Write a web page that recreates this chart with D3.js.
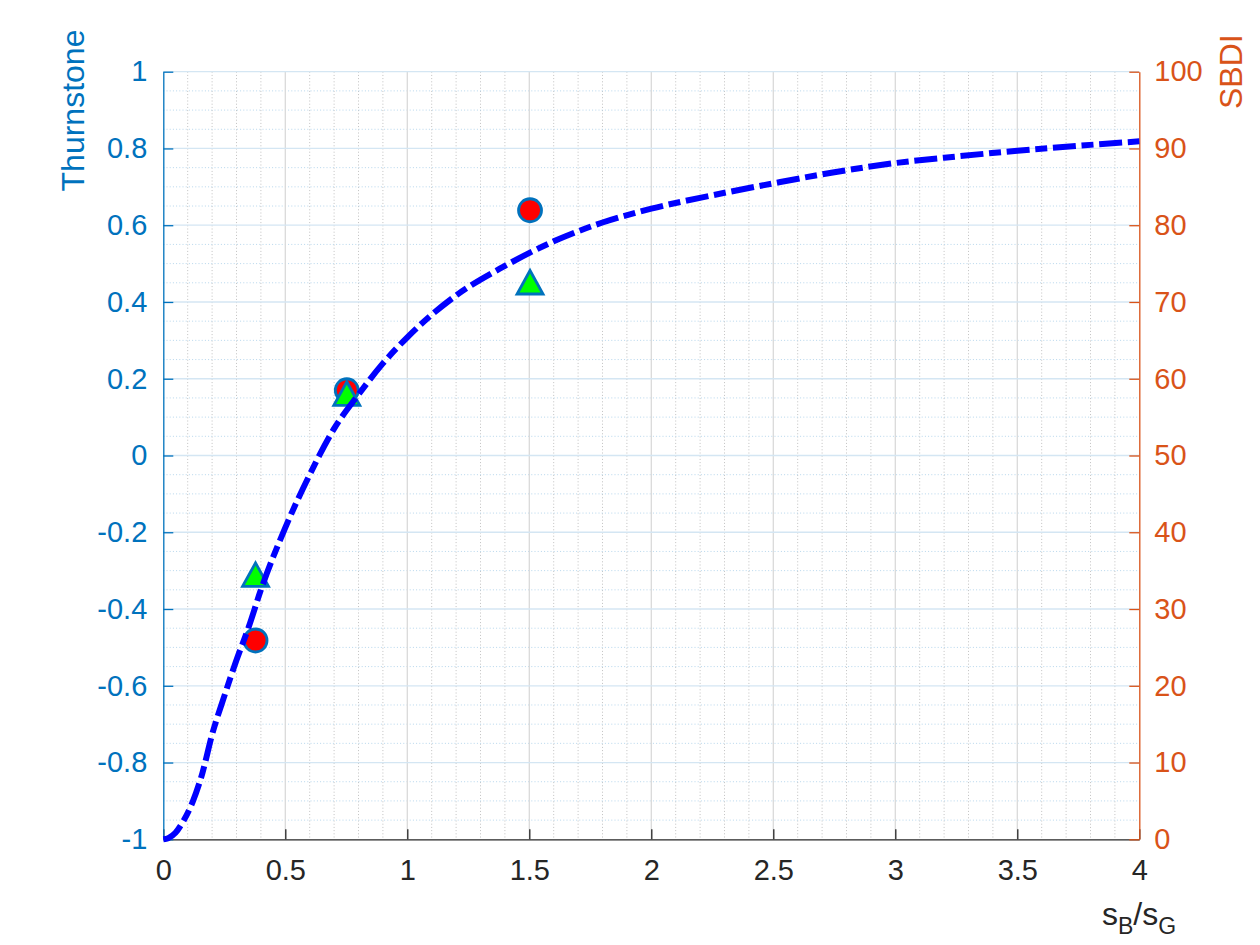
<!DOCTYPE html>
<html>
<head>
<meta charset="utf-8">
<script src="https://cdn.jsdelivr.net/npm/d3@7"></script>
<style>
  html, body { margin: 0; padding: 0; background: #ffffff; }
  svg { display: block; font-family: "Liberation Sans", Arial, Helvetica, sans-serif; }
</style>
</head>
<body>
<svg id="chart" width="1260" height="945"></svg>
<script>
// ---- data ----
const curveX = [0, 0.02, 0.05, 0.08, 0.12, 0.16, 0.2, 0.25, 0.3, 0.35, 0.4, 0.5, 0.6, 0.7, 0.8, 0.9, 1.0, 1.2, 1.4, 1.6, 1.8, 2.0, 2.25, 2.5, 2.75, 3.0, 3.25, 3.5, 3.75, 4.0];
const curveThurstone = [-1, -0.997, -0.983, -0.955, -0.903, -0.828, -0.727, -0.627, -0.533, -0.447, -0.35, -0.188, -0.05, 0.07, 0.159, 0.24, 0.308, 0.417, 0.494, 0.558, 0.607, 0.643, 0.678, 0.709, 0.738, 0.762, 0.779, 0.794, 0.807, 0.8185];

const sampleX = [0.378, 0.752, 1.503];
const thurstoneVals = [-0.482, 0.17, 0.639];
const sbdiVals = [34.4, 58.0, 72.5];

const xTicks = [0, 0.5, 1, 1.5, 2, 2.5, 3, 3.5, 4];
const xTickLabels = ["0", "0.5", "1", "1.5", "2", "2.5", "3", "3.5", "4"];
const yLeftTicks = [-1, -0.8, -0.6, -0.4, -0.2, 0, 0.2, 0.4, 0.6, 0.8, 1];
const yLeftTickLabels = ["-1", "-0.8", "-0.6", "-0.4", "-0.2", "0", "0.2", "0.4", "0.6", "0.8", "1"];
const yRightTicks = [0, 10, 20, 30, 40, 50, 60, 70, 80, 90, 100];
const yRightTickLabels = ["0", "10", "20", "30", "40", "50", "60", "70", "80", "90", "100"];

// ---- layout ----
const L = 163.3, R = 1139.3, T = 71.7, B = 839.3;
const blueAxis = "#0072BD", orangeAxis = "#D95319", darkAxis = "#262626";
const tickFont = 29, labelFont = 32;

const svg = d3.select("#chart");
svg.append("rect").attr("width", 1260).attr("height", 945).attr("fill", "#ffffff");

const x = d3.scaleLinear().domain([0, 4]).range([L, R]);
const yL = d3.scaleLinear().domain([-1, 1]).range([B, T]);
const yR = d3.scaleLinear().domain([0, 100]).range([B, T]);

// ---- grid ----
const grid = svg.append("g");
const xMinor = d3.range(1, 40).map(i => i / 10).filter(v => Math.abs(v * 2 - Math.round(v * 2)) > 1e-6);
const yMinor = d3.range(-19, 20).map(i => i / 20).filter(v => Math.abs(v * 5 - Math.round(v * 5)) > 1e-6);

grid.selectAll(".xminor").data(xMinor).enter().append("line")
  .attr("x1", d => x(d)).attr("x2", d => x(d)).attr("y1", T).attr("y2", B)
  .attr("stroke", "#c0c0c0").attr("stroke-width", 1).attr("stroke-dasharray", "1 2.2");
grid.selectAll(".yminor").data(yMinor).enter().append("line")
  .attr("x1", L).attr("x2", R).attr("y1", d => yL(d)).attr("y2", d => yL(d))
  .attr("stroke", "#b6d6ec").attr("stroke-width", 1).attr("stroke-dasharray", "1 2.2");
grid.selectAll(".xmajor").data(xTicks.slice(1, -1)).enter().append("line")
  .attr("x1", d => x(d)).attr("x2", d => x(d)).attr("y1", T).attr("y2", B)
  .attr("stroke", "#dadada").attr("stroke-width", 1.3);
grid.selectAll(".ymajor").data(yLeftTicks.slice(1)).enter().append("line")
  .attr("x1", L).attr("x2", R).attr("y1", d => yL(d)).attr("y2", d => yL(d))
  .attr("stroke", "#d4e6f3").attr("stroke-width", 1.3);

// ---- axes ----
function styleAxis(g, color) {
  g.selectAll("path.domain").attr("stroke", color).attr("stroke-width", 1.3);
  g.selectAll(".tick line").attr("stroke", color).attr("stroke-width", 1.3);
  g.selectAll(".tick text").attr("fill", color).attr("font-size", tickFont)
    .attr("font-family", '"Liberation Sans", Arial, Helvetica, sans-serif');
}

const xAxis = d3.axisBottom(x).tickValues(xTicks).tickFormat((d, i) => xTickLabels[i])
  .tickSizeInner(-10).tickSizeOuter(0).tickPadding(20);
const gx = svg.append("g").attr("transform", `translate(0,${B})`).call(xAxis);
styleAxis(gx, darkAxis);

const yAxisL = d3.axisLeft(yL).tickValues(yLeftTicks).tickFormat((d, i) => yLeftTickLabels[i])
  .tickSizeInner(-10).tickSizeOuter(0).tickPadding(16);
const gyl = svg.append("g").attr("transform", `translate(${L},0)`).call(yAxisL);
styleAxis(gyl, blueAxis);

const yAxisR = d3.axisRight(yR).tickValues(yRightTicks).tickFormat((d, i) => yRightTickLabels[i])
  .tickSizeInner(-10).tickSizeOuter(0).tickPadding(15);
const gyr = svg.append("g").attr("transform", `translate(${R},0)`).call(yAxisR);
styleAxis(gyr, orangeAxis);

// ---- axis labels ----
const xl = svg.append("text").attr("x", 1139).attr("y", 925)
  .attr("text-anchor", "middle").attr("font-size", labelFont).attr("fill", darkAxis);
xl.append("tspan").text("s");
xl.append("tspan").attr("dy", 9).attr("font-size", 23).text("B");
xl.append("tspan").attr("dy", -9).text("/s");
xl.append("tspan").attr("dy", 9).attr("font-size", 23).text("G");

svg.append("text").attr("transform", "translate(84,110.5) rotate(-90)")
  .attr("text-anchor", "middle").attr("font-size", labelFont).attr("fill", blueAxis)
  .text("Thurnstone");
svg.append("text").attr("transform", "translate(1242,71.7) rotate(-90)")
  .attr("text-anchor", "middle").attr("font-size", labelFont).attr("fill", orangeAxis)
  .text("SBDI");

// ---- markers ----
const marks = svg.append("g");
marks.selectAll("circle.t").data(sampleX).enter().append("circle")
  .attr("cx", d => x(d)).attr("cy", (d, i) => yL(thurstoneVals[i])).attr("r", 11.5)
  .attr("fill", "#ff0000").attr("stroke", blueAxis).attr("stroke-width", 2.8);

const tri = "M0,-12.3 L13,11.2 L-13,11.2 Z";
marks.selectAll("path.s").data(sampleX).enter().append("path")
  .attr("d", tri)
  .attr("transform", (d, i) => `translate(${x(d)},${yR(sbdiVals[i])})`)
  .attr("fill", "#00ff00").attr("stroke", blueAxis).attr("stroke-width", 2.8)
  .attr("stroke-linejoin", "miter");

// ---- curve ----
const line = d3.line().x(d => x(d[0])).y(d => yL(d[1])).curve(d3.curveMonotoneX);
svg.append("path").datum(curveX.map((v, i) => [v, curveThurstone[i]]))
  .attr("d", line).attr("fill", "none").attr("stroke", "#0000ff")
  .attr("stroke-width", 6).attr("stroke-dasharray", "23 5.7 12 5.7");
</script>
</body>
</html>
